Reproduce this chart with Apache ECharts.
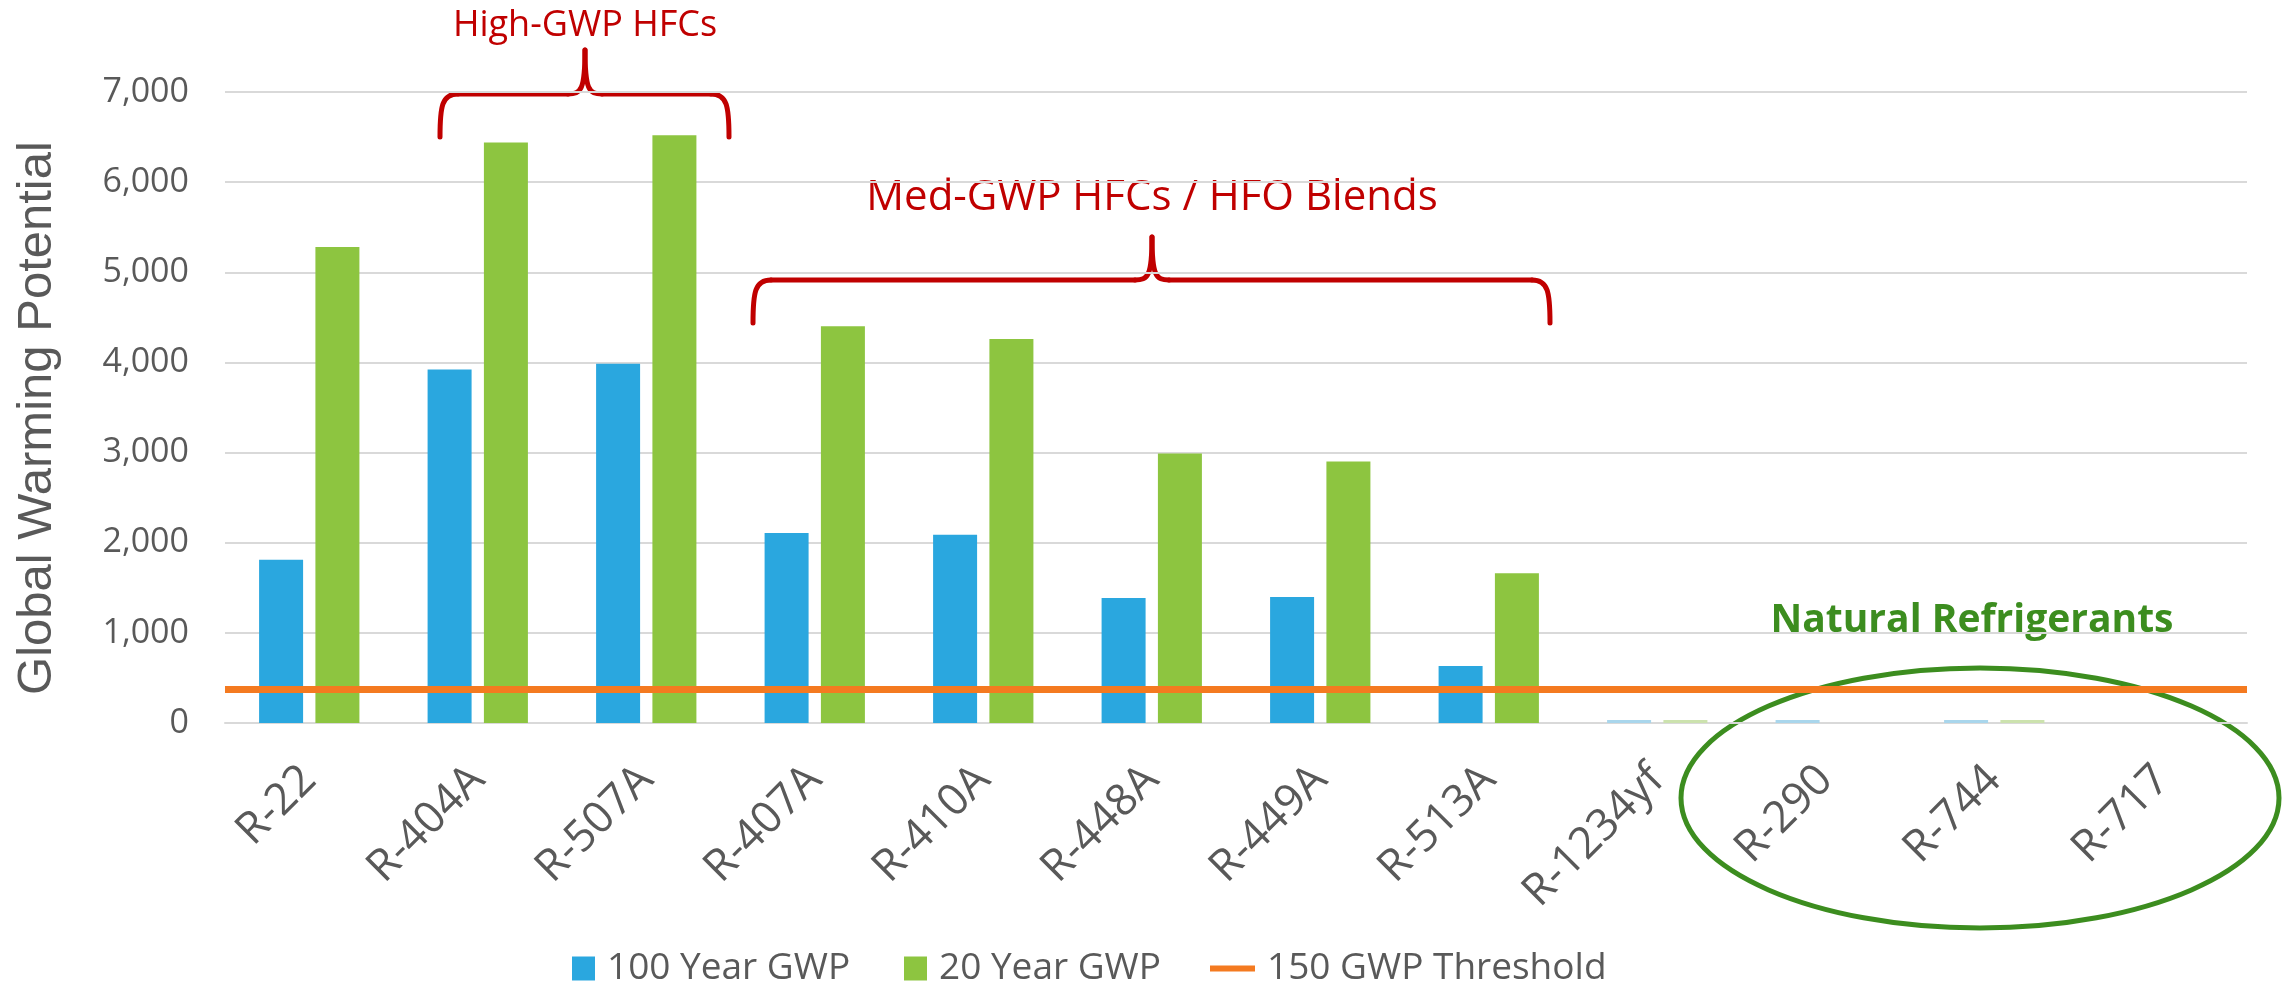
<!DOCTYPE html>
<html><head><meta charset="utf-8">
<script src="https://cdn.jsdelivr.net/npm/echarts@6/dist/echarts.min.js"></script>
<style>html,body{margin:0;padding:0;background:#fff}#chart{width:2290px;height:982px}</style>
</head><body><div id="chart"></div>
<script>
const categories = ['R-22','R-404A','R-507A','R-407A','R-410A','R-448A','R-449A','R-513A','R-1234yf','R-290','R-744','R-717'];
const gwp100 = [1810, 3922, 3985, 2107, 2088, 1387, 1397, 631, 4, 3, 1, 0];
const gwp20 = [5280, 6440, 6520, 4400, 4260, 2990, 2900, 1660, 1, 0, 1, 0];
const thresholdValue = 370;
const seriesNames = ['100 Year GWP', '20 Year GWP', '150 GWP Threshold'];
const yMin = 0, yMax = 7000, yStep = 1000;

const blue = '#2AA7DF', green = '#8DC540', orange = '#F47A20';
const lightBlue = '#A9D6EC', lightGreen = '#CCE2AE';
const grey = '#595959', red = '#C00000', dkGreen = '#3C8D1F';
// zero values draw no bar; near-zero values draw as a faint hairline like the source
const barData = (arr, faint) => arr.map(v => v === 0 ? '-' : (v < 10 ? {value:v, itemStyle:{color:faint}} : v));

function brace(xl, xr, xm, yBar, yEnd, yPeak, color) {
  const st = {fill:'none', stroke:color, lineWidth:5, lineCap:'round'};
  const bz = (x1,y1,cpx1,cpy1,cpx2,cpy2,x2,y2) => ({type:'bezierCurve', shape:{x1,y1,cpx1,cpy1,cpx2,cpy2,x2,y2}, style:st});
  const ln = (x1,y1,x2,y2) => ({type:'line', shape:{x1,y1,x2,y2}, style:st});
  return [
    bz(xl,yEnd, xl,yBar+12, xl+2,yBar, xl+18,yBar),
    ln(xl+18,yBar, xm-17,yBar),
    bz(xm-17,yBar, xm-4,yBar, xm,yBar-4, xm,yPeak),
    bz(xm,yPeak, xm,yBar-4, xm+4,yBar, xm+17,yBar),
    ln(xm+17,yBar, xr-18,yBar),
    bz(xr-18,yBar, xr-2,yBar, xr,yBar+12, xr,yEnd)
  ];
}
function txt(x, y, text, font, fill, rotation) {
  return {type:'text', x, y, rotation:rotation || 0,
    style:{text, font, fill, align:'center', verticalAlign:'middle', textAlign:'center', textVerticalAlign:'middle'}};
}

const chart = echarts.init(document.getElementById('chart'));
const legendText = {fontFamily:'Open Sans', fontSize:37, color:grey, padding:[0,0,0,7]};
chart.setOption({
  animation:false,
  backgroundColor:'#fff',
  grid:{left:225, right:43, top:92, bottom:259},
  xAxis:{type:'category', data:categories,
    axisLine:{lineStyle:{color:'#D9D9D9', width:2}}, axisTick:{show:false},
    axisLabel:{rotate:45, margin:50, interval:0, fontFamily:'Open Sans', fontSize:44, color:grey}},
  yAxis:{type:'value', min:yMin, max:yMax, interval:yStep,
    axisLine:{show:false}, axisTick:{show:false},
    splitLine:{lineStyle:{color:'#D9D9D9', width:2}},
    axisLabel:{margin:36, fontFamily:'Open Sans', fontSize:34, color:grey,
      formatter:v => v.toLocaleString('en-US')}},
  legend:[
    {data:[seriesNames[0]], left:567, top:945, icon:'rect', itemWidth:23, itemHeight:24, selectedMode:false, textStyle:legendText},
    {data:[seriesNames[1]], left:899, top:945, icon:'rect', itemWidth:23, itemHeight:24, selectedMode:false, textStyle:legendText},
    {data:[seriesNames[2]], left:1205, top:945, icon:'rect', itemWidth:45, itemHeight:6, selectedMode:false, textStyle:legendText}
  ],
  series:[
    {name:seriesNames[0], type:'bar', data:barData(gwp100, lightBlue), barWidth:44, barGap:'28%', barMinHeight:3, itemStyle:{color:blue}},
    {name:seriesNames[1], type:'bar', data:barData(gwp20, lightGreen), barWidth:44, barGap:'28%', barMinHeight:3, itemStyle:{color:green}},
    {name:seriesNames[2], type:'line', data:[], itemStyle:{color:orange}, lineStyle:{color:orange, width:7},
      markLine:{silent:true, symbol:'none', label:{show:false},
        lineStyle:{color:orange, width:7, type:'solid'}, data:[{yAxis:thresholdValue}]}}
  ],
  graphic:[
    txt(37, 418, 'Global Warming Potential', '49px "Liberation Sans"', grey, Math.PI/2),
    txt(585, 26, 'High-GWP HFCs', '36px "Open Sans"', red),
    ...brace(440, 729, 585, 94, 137, 50, red),
    txt(1152, 198, 'Med-GWP HFCs / HFO Blends', '42px "Open Sans"', red),
    ...brace(753, 1550, 1152, 280, 323, 237, red),
    txt(1972, 621, 'Natural Refrigerants', 'bold 39px "Open Sans"', dkGreen),
    {type:'ellipse', shape:{cx:1980, cy:798, rx:299, ry:130}, style:{fill:'none', stroke:dkGreen, lineWidth:5}}
  ]
});
</script></body></html>
